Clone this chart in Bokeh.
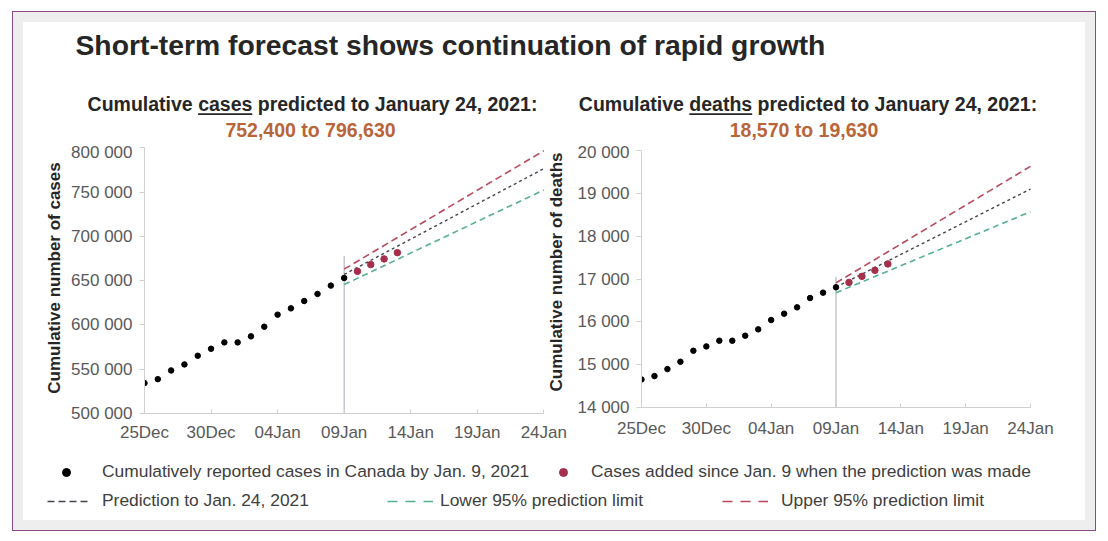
import math
import pandas as pd
from bokeh.plotting import figure
from bokeh.models import Label, Legend, LegendItem, FixedTicker, BoxAnnotation
from bokeh.layouts import column, row
from bokeh.embed import file_html
from bokeh.resources import INLINE

FONT = "Liberation Sans"

# ---------------- data ----------------
obs_dates = ["2020-12-25", "2020-12-26", "2020-12-27", "2020-12-28", "2020-12-29",
             "2020-12-30", "2020-12-31", "2021-01-01", "2021-01-02", "2021-01-03",
             "2021-01-04", "2021-01-05", "2021-01-06", "2021-01-07", "2021-01-08",
             "2021-01-09"]
obs_cases = [534300, 538800, 548600, 555400, 565200, 573100, 580300, 580300,
             587100, 598000, 611600, 618700, 627000, 635000, 644400, 653000]
obs_deaths = [14655, 14733, 14896, 15068, 15325, 15426, 15559, 15559,
              15676, 15824, 16042, 16190, 16338, 16556, 16681, 16806]

new_dates = ["2021-01-10", "2021-01-11", "2021-01-12", "2021-01-13"]
new_cases = [660500, 668100, 674500, 681600]
new_deaths = [16921, 17062, 17202, 17351]

forecast_dates = ["2021-01-09", "2021-01-24"]
cases_pred = [657000, 776500]
cases_lower = [645500, 752400]
cases_upper = [663000, 796630]
deaths_pred = [16810, 19100]
deaths_lower = [16680, 18570]
deaths_upper = [16910, 19630]

cutoff_date = "2021-01-09"
cases_cutoff_top = 678000
deaths_cutoff_top = 17050

tick_dates = ["2020-12-25", "2020-12-30", "2021-01-04", "2021-01-09",
              "2021-01-14", "2021-01-19", "2021-01-24"]
tick_labels = ["25Dec", "30Dec", "04Jan", "09Jan", "14Jan", "19Jan", "24Jan"]
cases_ticks = [500000, 550000, 600000, 650000, 700000, 750000, 800000]
deaths_ticks = [14000, 15000, 16000, 17000, 18000, 19000, 20000]

main_title = "Short-term forecast shows continuation of rapid growth"
cases_title = "Cumulative cases predicted to January 24, 2021:"
cases_range = "752,400 to 796,630"
deaths_title = "Cumulative deaths predicted to January 24, 2021:"
deaths_range = "18,570 to 19,630"
legend_labels = ["Cumulatively reported cases in Canada by Jan. 9, 2021",
                 "Cases added since Jan. 9 when the prediction was made",
                 "Prediction to Jan. 24, 2021",
                 "Lower 95% prediction limit",
                 "Upper 95% prediction limit"]

BASE = pd.Timestamp(tick_dates[0])


def days(ds):
    return [(pd.Timestamp(d) - BASE).days for d in ds]


C_PRED = "#44444f"
C_LOW = "#55b08f"
C_UP = "#b84a5c"
C_NEW = "#a32f4b"
C_ORANGE = "#b9653a"
C_DARK = "#262626"
C_TICK = "#595959"
C_AXIS = "#d0d0d0"
C_CUT = "#a3aab6"

PANEL_X = 23      # page x of the white panel
PANEL_Y = 22      # page y of the white panel
HEAD_H = 120      # header canvas: page y 22..142
FIG_TOP = PANEL_Y + HEAD_H
FIG_H = 316       # chart canvases: page y 142..458
LEG_H = 62        # legend canvas: page y 458..520


def make_chart(fig_left, fig_right, frame_left, axis_right, axis_top, axis_bottom,
               yticks, obs, new, pred, lower, upper, cut_top, ylabel, x_standoff):
    # the frame reaches the canvas top and right edge; axis bounds keep the axes short
    xmax_tick = days([tick_dates[-1]])[0]
    x_end = xmax_tick * (fig_right - frame_left) / (axis_right - frame_left)
    y0, y1 = yticks[0], yticks[-1]
    y_end = y0 + (y1 - y0) * (axis_bottom - FIG_TOP) / (axis_bottom - axis_top)
    p = figure(width=fig_right - fig_left, height=FIG_H, output_backend="svg",
               toolbar_location=None, x_range=(0, x_end), y_range=(y0, y_end),
               min_border_left=frame_left - fig_left, min_border_right=0,
               min_border_top=0, min_border_bottom=FIG_TOP + FIG_H - axis_bottom)
    p.outline_line_color = None
    p.grid.visible = False
    p.background_fill_color = "white"
    p.border_fill_color = "white"

    xa = p.xaxis[0]
    ya = p.yaxis[0]
    tx = days(tick_dates)
    xa.bounds = (tx[0], tx[-1])
    ya.bounds = (y0, y1)
    xa.ticker = FixedTicker(ticks=tx)
    xa.major_label_overrides = {t: l for t, l in zip(tx, tick_labels)}
    ya.ticker = FixedTicker(ticks=yticks)
    ya.major_label_overrides = {v: f"{v:,}".replace(",", " ") for v in yticks}
    for ax in (xa, ya):
        ax.axis_line_color = C_AXIS
        ax.major_tick_line_color = C_AXIS
        ax.minor_tick_line_color = None
        ax.major_label_text_font = FONT
        ax.major_label_text_font_size = "17px"
        ax.major_label_text_color = C_TICK
    xa.major_tick_in = 4
    xa.major_tick_out = 0
    xa.major_label_standoff = x_standoff
    ya.major_tick_in = 0
    ya.major_tick_out = 5
    ya.major_label_standoff = 7
    if ylabel:
        ya.axis_label = ylabel
        ya.axis_label_text_font = FONT
        ya.axis_label_text_font_size = "17px"
        ya.axis_label_text_font_style = "bold"
        ya.axis_label_text_color = C_DARK
        ya.axis_label_standoff = 4

    cx = days([cutoff_date])
    p.segment(x0=cx, y0=[y0], x1=cx, y1=[cut_top], line_color=C_CUT, line_width=1)

    fx = days(forecast_dates)
    p.line(fx, lower, line_color=C_LOW, line_width=1.6, line_dash="6 4")
    p.line(fx, upper, line_color=C_UP, line_width=1.6, line_dash="7 4")
    p.line(fx, pred, line_color=C_PRED, line_width=1.4, line_dash="3 3")

    p.scatter(days(obs_dates), obs, size=5.5, color="black")
    p.scatter(days(new_dates), new, size=6.5, color=C_NEW)
    return p


# left chart: canvas page x 23..570 ; axes x 144..543.3, y 147.3..413
p1 = make_chart(23, 570, 144, 543.3, 147.3, 413, cases_ticks, obs_cases, new_cases,
                cases_pred, cases_lower, cases_upper, cases_cutoff_top,
                "Cumulative number of cases", 9)
# right chart: canvas page x 570..1085 ; axes x 641..1030, y 150..407
p2 = make_chart(570, 1085, 641, 1030, 150, 407, deaths_ticks, obs_deaths, new_deaths,
                deaths_pred, deaths_lower, deaths_upper, deaths_cutoff_top, None, 11)

# y-axis title of the right chart (sits in the gap between the two charts)
p1.add_layout(Label(x=556 - 144, y=413 - 271.5, x_units="screen", y_units="screen",
                    text="Cumulative number of deaths", angle=math.pi / 2,
                    text_font=FONT, text_font_size="17px", text_font_style="bold",
                    text_color=C_DARK, text_align="center", text_baseline="middle"))

# header with main title and the two chart subtitles
head = figure(width=1062, height=HEAD_H, output_backend="svg", toolbar_location=None,
              x_axis_location=None, y_axis_location=None, min_border=0,
              x_range=(0, 1), y_range=(0, 1))
head.outline_line_color = None
head.border_fill_color = "white"
head.background_fill_color = "white"
head.grid.visible = False
HB = PANEL_Y + HEAD_H   # page y of the header bottom


def head_label(text, page_x, baseline, size, color, align="left"):
    # text_baseline "bottom": bottom = baseline + descent (0.212 em)
    head.add_layout(Label(x=page_x - PANEL_X, y=HB - (baseline + 0.212 * size),
                          x_units="screen", y_units="screen", text=text,
                          text_font=FONT, text_font_size=f"{size}px",
                          text_font_style="bold", text_color=color,
                          text_align=align, text_baseline="bottom"))


def underline(x0, x1):
    head.add_layout(BoxAnnotation(left=x0 - PANEL_X, right=x1 - PANEL_X,
                                  top=HB - 112.8, bottom=HB - 114.5,
                                  left_units="screen", right_units="screen",
                                  top_units="screen", bottom_units="screen",
                                  fill_color=C_DARK, fill_alpha=1, line_color=None))


head_label(main_title, 75, 55, 28.3, C_DARK)
head_label(cases_title, 312, 110.7, 19.5, C_DARK, "center")
head_label(cases_range, 310, 136.7, 19.5, C_ORANGE, "center")
head_label(deaths_title, 807.5, 110.7, 19.5, C_DARK, "center")
head_label(deaths_range, 803.5, 136.7, 19.5, C_ORANGE, "center")
underline(197.6, 251.8)
underline(688.8, 751.7)

# legend strip
leg = figure(width=1062, height=LEG_H, output_backend="svg", toolbar_location=None,
             x_axis_location=None, y_axis_location=None, min_border=0,
             x_range=(0, 1), y_range=(0, 1))
leg.outline_line_color = None
leg.border_fill_color = "white"
leg.grid.visible = False
ox, nx = days(obs_dates), days(new_dates)
fx = days(forecast_dates)
r_obs = leg.scatter(ox, obs_cases, size=5.5, color="black", visible=False)
r_new = leg.scatter(nx, new_cases, size=6.5, color=C_NEW, visible=False)
r_pred = leg.line(fx, cases_pred, line_color=C_PRED, line_width=1.4, line_dash="7 4",
                  visible=False)
r_low = leg.line(fx, cases_lower, line_color=C_LOW, line_width=1.6, line_dash="10 8",
                 visible=False)
r_up = leg.line(fx, cases_upper, line_color=C_UP, line_width=1.6, line_dash="10 8",
                visible=False)

specs = [(r_obs, legend_labels[0], 33, 38, 20, 26),
         (r_new, legend_labels[1], 530, 38, 20, 18),
         (r_pred, legend_labels[2], 24, 9, 43, 12),
         (r_low, legend_labels[3], 364, 9, 46, 7),
         (r_up, legend_labels[4], 699, 9, 46, 13)]
for r, lab, lx, ly, gw, st in specs:
    lg = Legend(items=[LegendItem(label=lab, renderers=[r])], location=(lx, ly),
                orientation="horizontal", padding=0, margin=0, spacing=0,
                border_line_alpha=0, background_fill_alpha=0,
                inactive_fill_alpha=0,
                glyph_width=gw, glyph_height=20, label_standoff=st,
                label_text_font=FONT, label_text_font_size="17.4px",
                label_text_color="#404040", label_height=20)
    leg.add_layout(lg)

# each chart in its own column so the row does not align their frames
charts = row(column(p1), column(p2))
inner = column(head, charts, leg, styles={"background-color": "white"})
outer = column(inner, margin=(11, 0, 0, 12),
               styles={"border": "1px solid #8e4a84", "background-color": "#eeeeee",
                       "padding": "10px"})

open("out.html", "w").write(file_html(outer, INLINE))
